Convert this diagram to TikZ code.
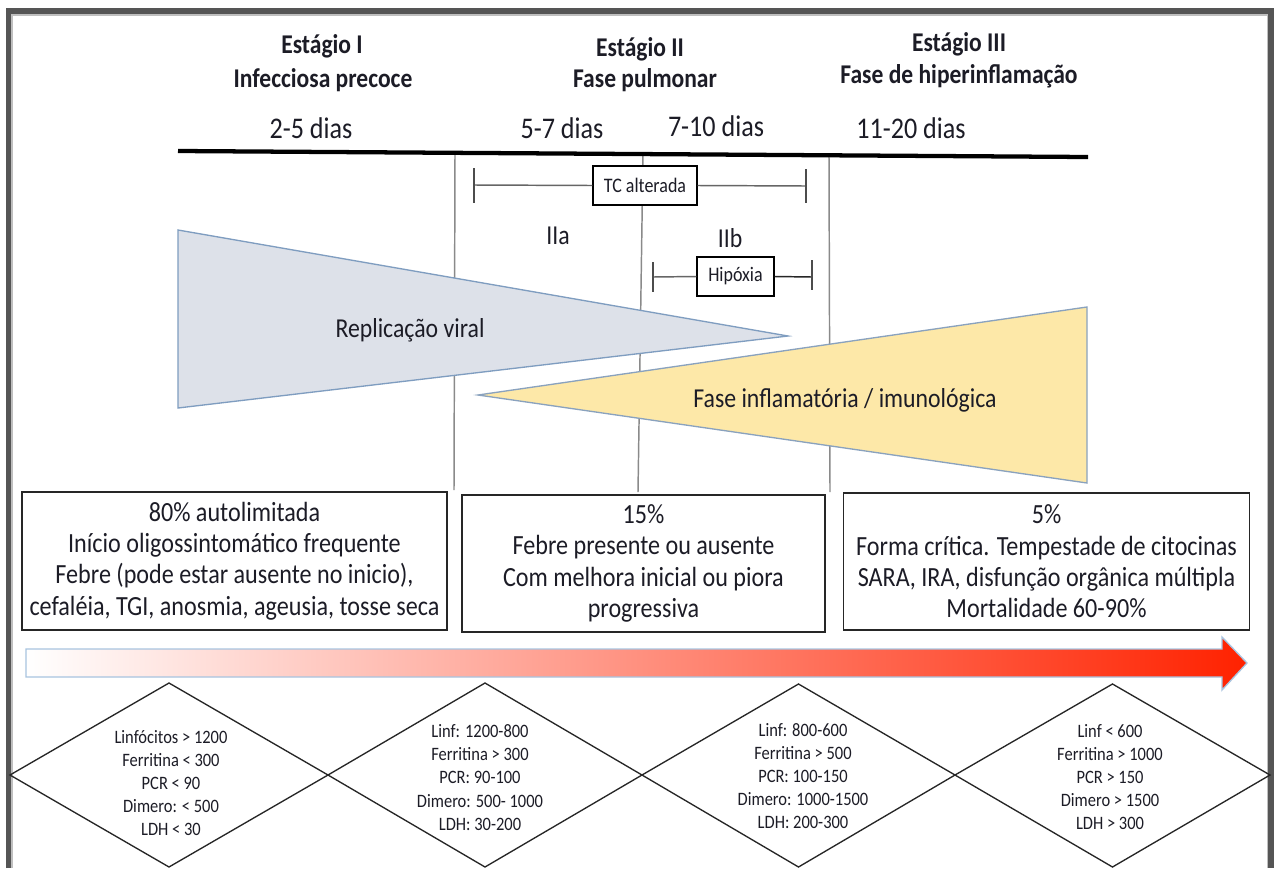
\documentclass[tikz,border=0pt]{standalone}
\usepackage{fontspec}
\setmainfont[FakeStretch=0.87]{Carlito}
\usetikzlibrary{shapes.geometric}
\definecolor{txt}{HTML}{1C1C26}
\definecolor{frame}{HTML}{555555}
\definecolor{vline}{HTML}{8A8A8A}
\definecolor{grayfill}{HTML}{DDE1E9}
\definecolor{grayedge}{HTML}{7F9DC0}
\definecolor{yelfill}{HTML}{FDE8A8}
\definecolor{yeledge}{HTML}{8AA2BE}
\definecolor{arrowedge}{HTML}{A8C4E0}
\definecolor{arrowred}{HTML}{FF2200}
\tikzset{
  head/.style={font=\fontsize{20.3}{23}\selectfont\bfseries, text=txt, inner sep=0pt},
  days/.style={font=\fontsize{22.5}{26}\selectfont, text=txt, inner sep=0pt},
  smallbox/.style={draw=black, line width=1.1pt, fill=white, font=\fontsize{15.5}{18}\selectfont, text=txt, inner sep=0pt},
  tick/.style={draw=black!70, line width=1.1pt},
  brline/.style={draw=black!60, line width=1.1pt},
  infobox/.style={draw=black!85, line width=1.1pt, fill=white, align=center, font=\fontsize{20.8}{23.5}\selectfont, text=txt, inner sep=0pt},
  labtxt/.style={font=\fontsize{20.5}{24}\selectfont, text=txt, inner sep=0pt},
  diam/.style={draw=black!85, line width=1pt},
  diamtxt/.style={align=center, font=\fontsize{14.2}{17.4}\selectfont, text=txt, inner sep=0pt},
  vsep/.style={draw=vline, line width=1.1pt}
}
\begin{document}
\begin{tikzpicture}[x=0.75pt,y=-0.75pt]
\useasboundingbox (0,0) rectangle (1278,868);
\fill[white] (0,0) rectangle (1278,868);
% frame
\draw[frame, line width=4.5pt] (8.5,868) -- (8.5,11) -- (1271,11) -- (1271,868);
\draw[black!25, line width=1.1pt] (12,868) -- (12,14.8) -- (1267.5,14.8) -- (1267.5,868);

% headers
\node[head] (s1a) at (322,46) {Estágio I};
\node[head] (s1b) at (323,80) {Infecciosa precoce};
\node[head] (s2a) at (640,49) {Estágio II};
\node[head] (s2b) at (645,80) {Fase pulmonar};
\node[head] (s3a) at (959,44) {Estágio III};
\node[head] (s3b) at (959,76) {Fase de hiperinflamação};
\node[days] (d1) at (311,128) {2-5 dias};
\node[days] (d2) at (562,128) {5-7 dias};
\node[days] (d3) at (716,126) {7-10 dias};
\node[days] (d4) at (911,128) {11-20 dias};

% vertical separators (behind triangles)
\coordinate (v1t) at (455,152); \coordinate (v1b) at (454,490);
\coordinate (v2t) at (643,154); \coordinate (v2b) at (638,492);
\coordinate (v3t) at (829,156); \coordinate (v3b) at (830,492);
\draw[vsep] (v1t) -- (v1b);
\draw[vsep] (v2t) -- (v2b);
\draw[vsep] (v3t) -- (v3b);

% timeline
\coordinate (tl) at (178,151); \coordinate (tr) at (1088,157);
\draw[black, line width=3.2pt] (tl) -- (tr);

% TC alterada bracket
\node[smallbox, minimum width=78pt, minimum height=29pt] (tc) at (645,185.5) {TC alterada};
\coordinate (tcl) at (474,185); \coordinate (tcr) at (806,186);
\draw[brline] (tcl) -- (tc.west);
\draw[brline] (tc.east) -- (tcr);
\draw[tick] (474,168) -- (474,203);
\draw[tick] (806,169) -- (806,203);

% labels IIa IIb
\node[labtxt] (iia) at (558,236) {IIa};
\node[labtxt] (iib) at (730,238) {IIb};

% Hipoxia bracket
\node[smallbox, minimum width=57.5pt, minimum height=29pt] (hip) at (735.5,276.5) {Hipóxia};
\coordinate (hl) at (653,277); \coordinate (hr) at (812,277);
\draw[brline] (hl) -- (hip.west);
\draw[black!85, line width=1.1pt] (hip.east) -- (hr);
\draw[tick] (653,262) -- (653,292);
\draw[tick] (812,260) -- (812,290);

% triangles
\draw[fill=grayfill, draw=grayedge, line width=1pt] (178,230) -- (788,336) -- (178,408) -- cycle;
\node[labtxt] (rep) at (410,330) {Replicação viral};
\draw[fill=yelfill, draw=yeledge, line width=1pt] (478,395) -- (1087,307) -- (1087,483) -- cycle;
\node[labtxt] (inf) at (845,400) {Fase inflamatória / imunológica};

% info boxes
\node[infobox, minimum width=318.75pt, minimum height=103.5pt] (b1) at (234.5,561) {80\% autolimitada\\Início oligossintomático frequente\\Febre (pode estar ausente no inicio),\\cefaléia, TGI, anosmia, ageusia, tosse seca};
\node[infobox, minimum width=272.25pt, minimum height=102.75pt] (b2) at (643.5,563.5) {15\%\\Febre presente ou ausente\\Com melhora inicial ou piora\\progressiva};
\node[infobox, minimum width=304.5pt, minimum height=102.75pt] (b3) at (1046.5,561.5) {5\%\\Forma crítica. Tempestade de citocinas\\SARA, IRA, disfunção orgânica múltipla\\Mortalidade 60-90\%};

% gradient arrow
\shade[left color=white, right color=arrowred, draw=arrowedge, line width=1pt]
  (26,649) -- (1222,649) -- (1222,637) -- (1247,663) -- (1222,690) -- (1222,677) -- (26,677) -- cycle;

% diamonds
\draw[diam] (169,683) -- (328,775) -- (169,867) -- (10,775) -- cycle;
\draw[diam] (485,683) -- (642,775) -- (485,867) -- (328,775) -- cycle;
\draw[diam] (798.5,684) -- (955,775) -- (798.5,867) -- (642,775) -- cycle;
\draw[diam] (1112.5,684) -- (1270,775) -- (1112.5,867) -- (955,775) -- cycle;
\node[diamtxt] (t1) at (171,783) {Linfócitos > 1200\\Ferritina < 300\\PCR < 90\\Dimero: < 500\\LDH < 30};
\node[diamtxt] (t2) at (480,777.5) {Linf: 1200-800\\Ferritina > 300\\PCR: 90-100\\Dimero: 500- 1000\\LDH: 30-200};
\node[diamtxt] (t3) at (803,776) {Linf: 800-600\\Ferritina > 500\\PCR: 100-150\\Dimero: 1000-1500\\LDH: 200-300};
\node[diamtxt] (t4) at (1110,777) {Linf < 600\\Ferritina > 1000\\PCR > 150\\Dimero > 1500\\LDH > 300};
\end{tikzpicture}
\end{document}
